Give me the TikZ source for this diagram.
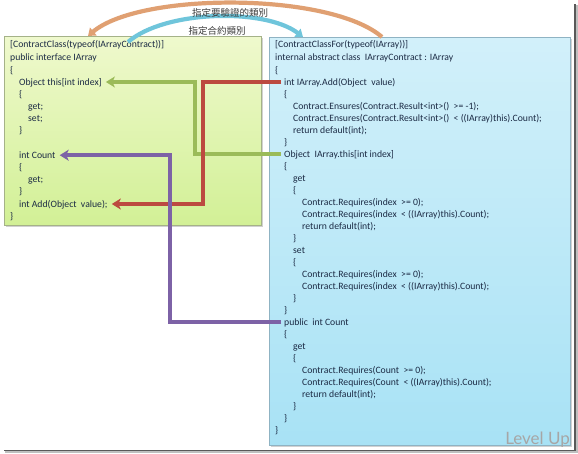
\documentclass[tikz,border=0pt]{standalone}
\usepackage{fontspec}
\setmainfont{Carlito}
\newfontfamily\cjk{Noto Sans CJK TC}
\newfontfamily\lvfont{Lato}
\usetikzlibrary{arrows.meta}
\definecolor{codetext}{HTML}{1B2A44}
\definecolor{lboxtop}{HTML}{EFF9CD}
\definecolor{lboxbot}{HTML}{D2F096}
\definecolor{lboxedge}{HTML}{A5B288}
\definecolor{rboxtop}{HTML}{D2F0FA}
\definecolor{rboxbot}{HTML}{A8E2F5}
\definecolor{rboxedge}{HTML}{8FB3C3}
\definecolor{cgreen}{HTML}{9BBB59}
\definecolor{cred}{HTML}{BC4A40}
\definecolor{cpurple}{HTML}{7D62A6}
\definecolor{corange}{HTML}{E0A072}
\definecolor{cblue}{HTML}{6FC5DB}
\definecolor{lbltext}{HTML}{3A3A3A}
\begin{document}
\begin{tikzpicture}[x=1pt,y=-1pt,
  code/.style={anchor=base west, inner sep=0pt, text height=7pt, text depth=1pt,
    font=\fontsize{9.7}{12}\selectfont, text=codetext},
  conn/.style={line width=3.6pt, -{Stealth[length=9pt,width=11pt,inset=2.5pt]}},
  arcline/.style={line width=4.2pt, -{Triangle[length=7pt,width=10pt]}},
  lbl/.style={font=\cjk\fontsize{9.5}{11}\selectfont, text=lbltext, inner sep=1pt},
  lbox/.style={draw=lboxedge, line width=0.7pt, top color=lboxtop, bottom color=lboxbot, inner sep=0pt, anchor=north west},
  rbox/.style={draw=rboxedge, line width=0.7pt, top color=rboxtop, bottom color=rboxbot, inner sep=0pt, anchor=north west}
]
\useasboundingbox (0,0) rectangle (578,453);
\fill[white] (0,0) rectangle (578,453);
% outer frame (right and bottom)
\draw[black!25, line width=2pt] (577,5) -- (577,452) -- (5,452);
\draw[black!65, line width=1.2pt] (575,4) -- (575,450.5) -- (4,450.5);

% boxes
\fill[black!18] (6,38) rectangle (263,227);
\node[lbox, minimum width=257pt, minimum height=189pt] (LB) at (4,36) {};
\fill[black!18] (271,39) rectangle (572,447);
\node[rbox, minimum width=301pt, minimum height=408pt] (RB) at (269,37) {};

% left code
\node[code] (L1) at (10,47) {[ContractClass(typeof(IArrayContract))]};
\node[code] (L2) at (10,60) {public interface IArray};
\node[code] (L3) at (10,73) {\{};
\node[code] (L4) at (19,85) {Object this[int index]};
\node[code] (L5) at (19,97.2) {\{};
\node[code] (L6) at (28,109.4) {get;};
\node[code] (L7) at (28,121.6) {set;};
\node[code] (L8) at (19,133.8) {\}};
\node[code] (L10) at (19,158.2) {int Count};
\node[code] (L11) at (19,170.4) {\{};
\node[code] (L12) at (28,182.6) {get;};
\node[code] (L13) at (19,194.8) {\}};
\node[code] (L14) at (19,207) {int Add(Object~~value);};
\node[code] (L15) at (10,219.2) {\}};

% right code
\node[code] (R1) at (275,47) {[ContractClassFor(typeof(IArray))]};
\node[code] (R2) at (275,60) {internal abstract class~~IArrayContract : IArray};
\node[code] (R3) at (275,73) {\{};
\node[code] (R4) at (284,85) {int IArray.Add(Object~~value)};
\node[code] (R5) at (284,97) {\{};
\node[code] (R6) at (293,109) {Contract.Ensures(Contract.Result<int>()~~>= -1);};
\node[code] (R7) at (293,121) {Contract.Ensures(Contract.Result<int>()~~< ((IArray)this).Count);};
\node[code] (R8) at (293,133) {return default(int);};
\node[code] (R9) at (284,145) {\}};
\node[code] (R10) at (284,157) {Object~~IArray.this[int index]};
\node[code] (R11) at (284,169) {\{};
\node[code] (R12) at (293,181) {get};
\node[code] (R13) at (293,193) {\{};
\node[code] (R14) at (302,205) {Contract.Requires(index~~>= 0);};
\node[code] (R15) at (302,217) {Contract.Requires(index~~< ((IArray)this).Count);};
\node[code] (R16) at (302,229) {return default(int);};
\node[code] (R17) at (293,241) {\}};
\node[code] (R18) at (293,253) {set};
\node[code] (R19) at (293,265) {\{};
\node[code] (R20) at (302,277) {Contract.Requires(index~~>= 0);};
\node[code] (R21) at (302,289) {Contract.Requires(index~~< ((IArray)this).Count);};
\node[code] (R22) at (293,301) {\}};
\node[code] (R23) at (284,313) {\}};
\node[code] (R24) at (284,325) {public~~int Count};
\node[code] (R25) at (284,337) {\{};
\node[code] (R26) at (293,349) {get};
\node[code] (R27) at (293,361) {\{};
\node[code] (R28) at (302,373) {Contract.Requires(Count~~>= 0);};
\node[code] (R29) at (302,385) {Contract.Requires(Count~~< ((IArray)this).Count);};
\node[code] (R30) at (302,397) {return default(int);};
\node[code] (R31) at (293,409) {\}};
\node[code] (R32) at (284,421) {\}};
\node[code] (R33) at (275,433) {\}};

% connectors
\draw[conn, draw=cgreen] ([xshift=-3pt]R10.west) -| (195,120) |- ([xshift=4pt]L4.east);
\draw[conn, draw=cred] ([xshift=-3pt]R4.west) -| (203,150) |- ([xshift=4pt]L14.east);
\draw[conn, draw=cpurple] ([xshift=-3pt]R24.west) -| (170,250) |- ([xshift=4pt]L10.east);

% arcs
\coordinate (oS) at ([xshift=113pt]RB.north west);
\coordinate (oE) at ([xshift=84pt]LB.north west);
\draw[arcline, draw=corange] (oS) .. controls (330,-8) and (140,-8) .. (oE);
\coordinate (bS) at (128,42);
\coordinate (bE) at ([xshift=34pt]RB.north west);
\draw[arcline, draw=cblue] (bS) .. controls (165,10) and (265,8) .. (bE);

\node[lbl] (T1) at (230,13) {指定要驗證的類別};
\node[lbl] (T2) at (217,31) {指定合約類別};

\node[anchor=base east, inner sep=0pt, font=\lvfont\fontsize{17}{18}\selectfont, text=black!35] (LV) at (570,444) {Level Up};
\end{tikzpicture}
\end{document}
